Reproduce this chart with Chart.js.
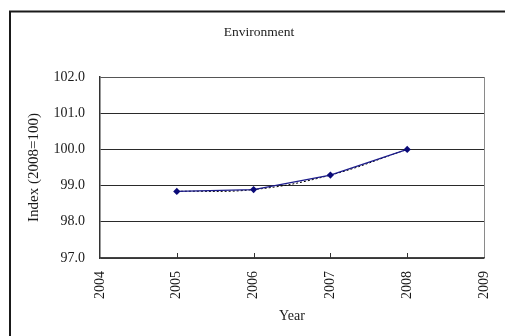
<!DOCTYPE html>
<html>
<head>
<meta charset="utf-8">
<title>Environment</title>
<script src="https://cdn.jsdelivr.net/npm/chart.js@4/dist/chart.umd.min.js"></script>
<style>
  html, body { margin: 0; padding: 0; background: #fff; }
  #wrap { width: 505px; height: 336px; position: relative; overflow: hidden; }
</style>
</head>
<body>
<div id="wrap"><canvas id="chart" width="505" height="336"></canvas></div>
<script>
// Environment index, 2008 = 100
const years = [2005, 2006, 2007, 2008];
const indexValues = [98.84, 98.89, 99.29, 100.0];
const yearAxisTicks = [2004, 2005, 2006, 2007, 2008, 2009];
const indexAxisTicks = [97, 98, 99, 100, 101, 102];
const chartTitle = 'Environment';

const SERIF = '"Liberation Serif", "DejaVu Serif", serif';
const INK = '#1a1a1a';

const points = years.map((y, i) => ({ x: y, y: indexValues[i] }));

// Outer frame, centred heading and inward tick marks on the year axis
const framePlugin = {
  id: 'frame',
  beforeDraw(chart) {
    const ctx = chart.ctx;
    ctx.save();
    ctx.fillStyle = '#fff';
    ctx.fillRect(0, 0, chart.width, chart.height);
    ctx.strokeStyle = INK;
    ctx.lineWidth = 2;
    ctx.strokeRect(10, 11.5, 700, 500);
    ctx.fillStyle = INK;
    ctx.font = '13.5px ' + SERIF;
    ctx.textAlign = 'center';
    ctx.textBaseline = 'middle';
    ctx.fillText(chartTitle, 259, 32);
    ctx.restore();
  },
  afterDraw(chart) {
    const ctx = chart.ctx;
    const xs = chart.scales.x;
    const bottom = chart.chartArea.bottom;
    ctx.save();
    ctx.strokeStyle = '#333';
    ctx.lineWidth = 1;
    xs.ticks.forEach(t => {
      if (t.value === xs.min || t.value === xs.max) return;
      const px = Math.round(xs.getPixelForValue(t.value)) + 0.5;
      ctx.beginPath();
      ctx.moveTo(px, bottom);
      ctx.lineTo(px, bottom - 5);
      ctx.stroke();
    });
    ctx.restore();
  }
};

new Chart(document.getElementById('chart'), {
  type: 'line',
  data: {
    datasets: [
      {
        label: 'Index',
        data: points,
        order: 0,
        borderColor: '#1c1c8c',
        backgroundColor: '#0a0a78',
        borderWidth: 1.3,
        pointStyle: 'rectRot',
        pointRadius: 3.6,
        pointBorderWidth: 0,
        tension: 0
      },
      {
        label: 'Index (smoothed)',
        data: points,
        order: 1,
        borderColor: '#000',
        borderWidth: 1,
        borderDash: [2, 2],
        pointRadius: 0,
        tension: 0.4
      }
    ]
  },
  options: {
    responsive: false,
    animation: false,
    devicePixelRatio: 1,
    layout: { padding: { left: 0, right: 21, top: 77, bottom: 0 } },
    plugins: {
      legend: { display: false },
      tooltip: { enabled: false },
      title: { display: false }
    },
    scales: {
      x: {
        type: 'linear',
        min: yearAxisTicks[0],
        max: yearAxisTicks[yearAxisTicks.length - 1],
        afterBuildTicks(scale) {
          scale.ticks = yearAxisTicks.map(v => ({ value: v }));
        },
        afterFit(scale) {
          scale.height = 78;
          scale.paddingLeft = 0;
          scale.paddingRight = 0;
        },
        ticks: {
          color: INK,
          font: { family: SERIF, size: 14 },
          minRotation: 90,
          maxRotation: 90,
          padding: 13,
          autoSkip: false,
          callback: v => String(v)
        },
        grid: {
          drawTicks: false,
          color: ctx => (ctx.tick && ctx.tick.value === yearAxisTicks[yearAxisTicks.length - 1]) ? '#8a8a8a' : 'rgba(0,0,0,0)',
          lineWidth: 1
        },
        border: { color: '#444', width: 1.5 },
        title: {
          display: true,
          text: 'Year',
          color: INK,
          font: { family: SERIF, size: 14 },
          padding: { top: 0, bottom: 11 }
        }
      },
      y: {
        min: indexAxisTicks[0],
        max: indexAxisTicks[indexAxisTicks.length - 1],
        afterBuildTicks(scale) {
          scale.ticks = indexAxisTicks.map(v => ({ value: v }));
        },
        afterFit(scale) { scale.width = 100; },
        ticks: {
          color: INK,
          font: { family: SERIF, size: 14 },
          padding: 15,
          callback: v => Number(v).toFixed(1)
        },
        grid: {
          drawTicks: false,
          color: ctx => (ctx.tick && ctx.tick.value === indexAxisTicks[indexAxisTicks.length - 1]) ? '#555' : '#2a2a2a',
          lineWidth: 1
        },
        border: { color: '#333', width: 1.5 },
        title: {
          display: true,
          text: 'Index (2008=100)',
          color: INK,
          font: { family: SERIF, size: 15 },
          padding: { top: 25, bottom: 0 }
        }
      }
    }
  },
  plugins: [framePlugin]
});
</script>
</body>
</html>
